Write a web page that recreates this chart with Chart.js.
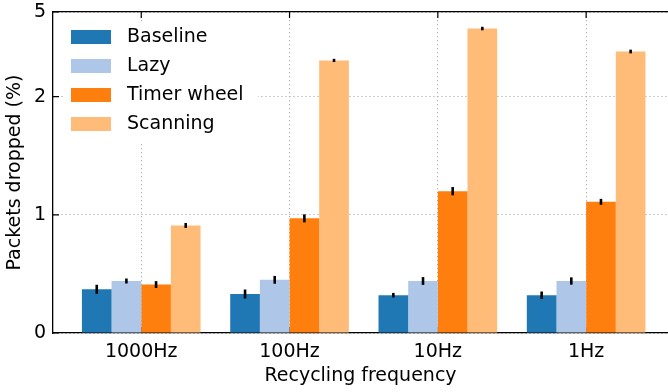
<!DOCTYPE html>
<html>
<head>
<meta charset="utf-8">
<script src="https://cdn.jsdelivr.net/npm/chart.js@4.4.1/dist/chart.umd.min.js"></script>
<style>
  html, body { margin: 0; padding: 0; background: #fff; }
  #wrap { width: 668px; height: 392px; }
</style>
</head>
<body>
<div id="wrap"><canvas id="chart" width="668" height="392"></canvas></div>
<script>
// data
const categories = ["1000Hz", "100Hz", "10Hz", "1Hz"];
const seriesNames = ["Baseline", "Lazy", "Timer wheel", "Scanning"];
const baseline = [0.37, 0.33, 0.32, 0.32];
const lazy = [0.44, 0.45, 0.44, 0.44];
const timerWheel = [0.41, 0.97, 1.20, 1.11];
const scanning = [0.91, 2.96, 4.18, 3.26];
const baselineErr = [0.027, 0.027, 0.008, 0.02];
const lazyErr = [0.01, 0.022, 0.022, 0.02];
const timerWheelErr = [0.018, 0.023, 0.024, 0.014];
const scanningErr = [0.01, 0.01, 0.02, 0.02];
const yTicks = [0, 1, 2, 5];
const yTickLabels = ["0", "1", "2", "5"];
const xTickValues = [0, 1, 2, 3];

const colors = ["#1f77b4", "#aec7e8", "#ff7f0e", "#ffbb78"];
const GRID = "#b0b0b0";
const FONT = "'DejaVu Sans', sans-serif";

Chart.defaults.font.family = FONT;
Chart.defaults.font.size = 19;
Chart.defaults.color = "#000";

// symlog scale like matplotlib (linthresh 2, linscale 1, base 10)
const LINTHRESH = 2;
const LINSCALE = 1 / (1 - 1 / 10);

function symlog(v) {
    const a = Math.abs(v);
    const t = a <= LINTHRESH ? (a / LINTHRESH) * LINSCALE : LINSCALE + Math.log10(a / LINTHRESH);
    return v < 0 ? -t : t;
}

function symexp(t) {
    const a = Math.abs(t);
    const v = a <= LINSCALE ? (a / LINSCALE) * LINTHRESH : LINTHRESH * Math.pow(10, a - LINSCALE);
    return t < 0 ? -v : v;
}

class SymlogScale extends Chart.LinearScale {
    buildTicks() {
        return yTicks.map(v => ({ value: v }));
    }
    configure() {
        super.configure();
        this._tStart = symlog(this.min);
        this._tRange = symlog(this.max) - this._tStart;
    }
    getPixelForValue(value) {
        return this.getPixelForDecimal((symlog(value) - this._tStart) / this._tRange);
    }
    getValueForPixel(pixel) {
        return symexp(this._tStart + this.getDecimalForPixel(pixel) * this._tRange);
    }
}
SymlogScale.id = "symlog";
SymlogScale.defaults = {};
Chart.register(SymlogScale);

const series = [baseline, lazy, timerWheel, scanning];
const errors = [baselineErr, lazyErr, timerWheelErr, scanningErr];

// x range chosen so the groups sit where they do in the figure
const X_MIN = -0.595;
const X_MAX = 3.552;

// inward tick marks, drawn under the bars (axis below)
const inwardTicks = {
    id: "inwardTicks",
    beforeDatasetsDraw(chart) {
        const { ctx, chartArea: a } = chart;
        const xs = chart.scales.x, ys = chart.scales.y;
        const len = 6;
        ctx.save();
        ctx.strokeStyle = "#000";
        ctx.lineWidth = 1.2;
        ctx.beginPath();
        ys.ticks.forEach(t => {
            const y = ys.getPixelForValue(t.value);
            ctx.moveTo(a.left, y);
            ctx.lineTo(a.left + len, y);
        });
        xs.ticks.forEach(t => {
            const x = xs.getPixelForValue(t.value);
            ctx.moveTo(x, a.top);
            ctx.lineTo(x, a.top + len);
            ctx.moveTo(x, a.bottom);
            ctx.lineTo(x, a.bottom - len);
        });
        ctx.stroke();
        ctx.restore();
    }
};

const errorBars = {
    id: "errorBars",
    afterDatasetsDraw(chart) {
        const { ctx } = chart;
        const ys = chart.scales.y;
        ctx.save();
        ctx.strokeStyle = "#000";
        ctx.lineWidth = 2.6;
        ctx.lineCap = "square";
        chart.data.datasets.forEach((ds, d) => {
            const meta = chart.getDatasetMeta(d);
            meta.data.forEach((bar, i) => {
                const v = series[d][i], e = errors[d][i];
                ctx.beginPath();
                ctx.moveTo(bar.x, ys.getPixelForValue(v + e));
                ctx.lineTo(bar.x, ys.getPixelForValue(v - e));
                ctx.stroke();
            });
        });
        ctx.restore();
    }
};

const legendBox = {
    id: "legendBox",
    afterDatasetsDraw(chart) {
        const { ctx, chartArea: a } = chart;
        const x0 = a.left + 10, y0 = a.top + 10;
        ctx.save();
        ctx.fillStyle = "#fff";
        ctx.fillRect(x0, y0, 195, 121);
        ctx.font = "19px " + FONT;
        ctx.textBaseline = "middle";
        ctx.textAlign = "left";
        chart.data.datasets.forEach((ds, i) => {
            const cy = y0 + 15 + i * 29;
            ctx.fillStyle = ds.backgroundColor;
            ctx.fillRect(x0 + 8, cy - 7, 40, 14);
            ctx.fillStyle = "#000";
            ctx.fillText(ds.label, x0 + 64, cy);
        });
        ctx.restore();
    }
};

new Chart(document.getElementById("chart"), {
    type: "bar",
    data: {
        datasets: series.map((vals, d) => ({
            label: seriesNames[d],
            data: vals.map((v, i) => ({ x: xTickValues[i], y: v })),
            backgroundColor: colors[d],
            borderWidth: 0,
            categoryPercentage: 0.8,
            barPercentage: 1.0,
        })),
    },
    options: {
        responsive: false,
        animation: false,
        devicePixelRatio: 1,
        layout: { padding: 0 },
        plugins: {
            legend: { display: false },
            tooltip: { enabled: false },
        },
        scales: {
            x: {
                type: "linear",
                position: "bottom",
                min: X_MIN,
                max: X_MAX,
                offset: false,
                afterBuildTicks: s => { s.ticks = xTickValues.map(v => ({ value: v })); },
                afterFit: s => { s.height = 59; s.paddingLeft = 0; s.paddingRight = 0; },
                grid: { drawTicks: false, offset: false, color: GRID, lineWidth: 1 },
                border: { display: true, color: "#000", width: 1.3, dash: [1.3, 2.7] },
                ticks: {
                    autoSkip: false,
                    maxRotation: 0,
                    padding: 8,
                    callback: (v, i) => categories[i],
                },
                title: { display: true, text: "Recycling frequency", padding: { top: 0, bottom: 5 } },
            },
            xTop: {
                type: "linear",
                position: "top",
                min: X_MIN,
                max: X_MAX,
                offset: false,
                afterFit: s => { s.height = 12; s.paddingLeft = 0; s.paddingRight = 0; },
                grid: { display: false },
                ticks: { display: false },
                border: { display: true, color: "#000", width: 1.3 },
            },
            y: {
                type: "symlog",
                position: "left",
                min: 0,
                max: 5,
                afterFit: s => { s.width = 53; s.paddingTop = 0; s.paddingBottom = 0; },
                grid: { drawTicks: false, color: GRID, lineWidth: 1 },
                border: { display: true, color: "#000", width: 1.3, dash: [1.3, 2.7] },
                ticks: {
                    padding: 7,
                    callback: (v, i) => yTickLabels[i],
                },
                title: { display: true, text: "Packets dropped (%)", padding: { top: 4, bottom: 0 } },
            },
        },
    },
    plugins: [inwardTicks, errorBars, legendBox],
});
</script>
</body>
</html>
